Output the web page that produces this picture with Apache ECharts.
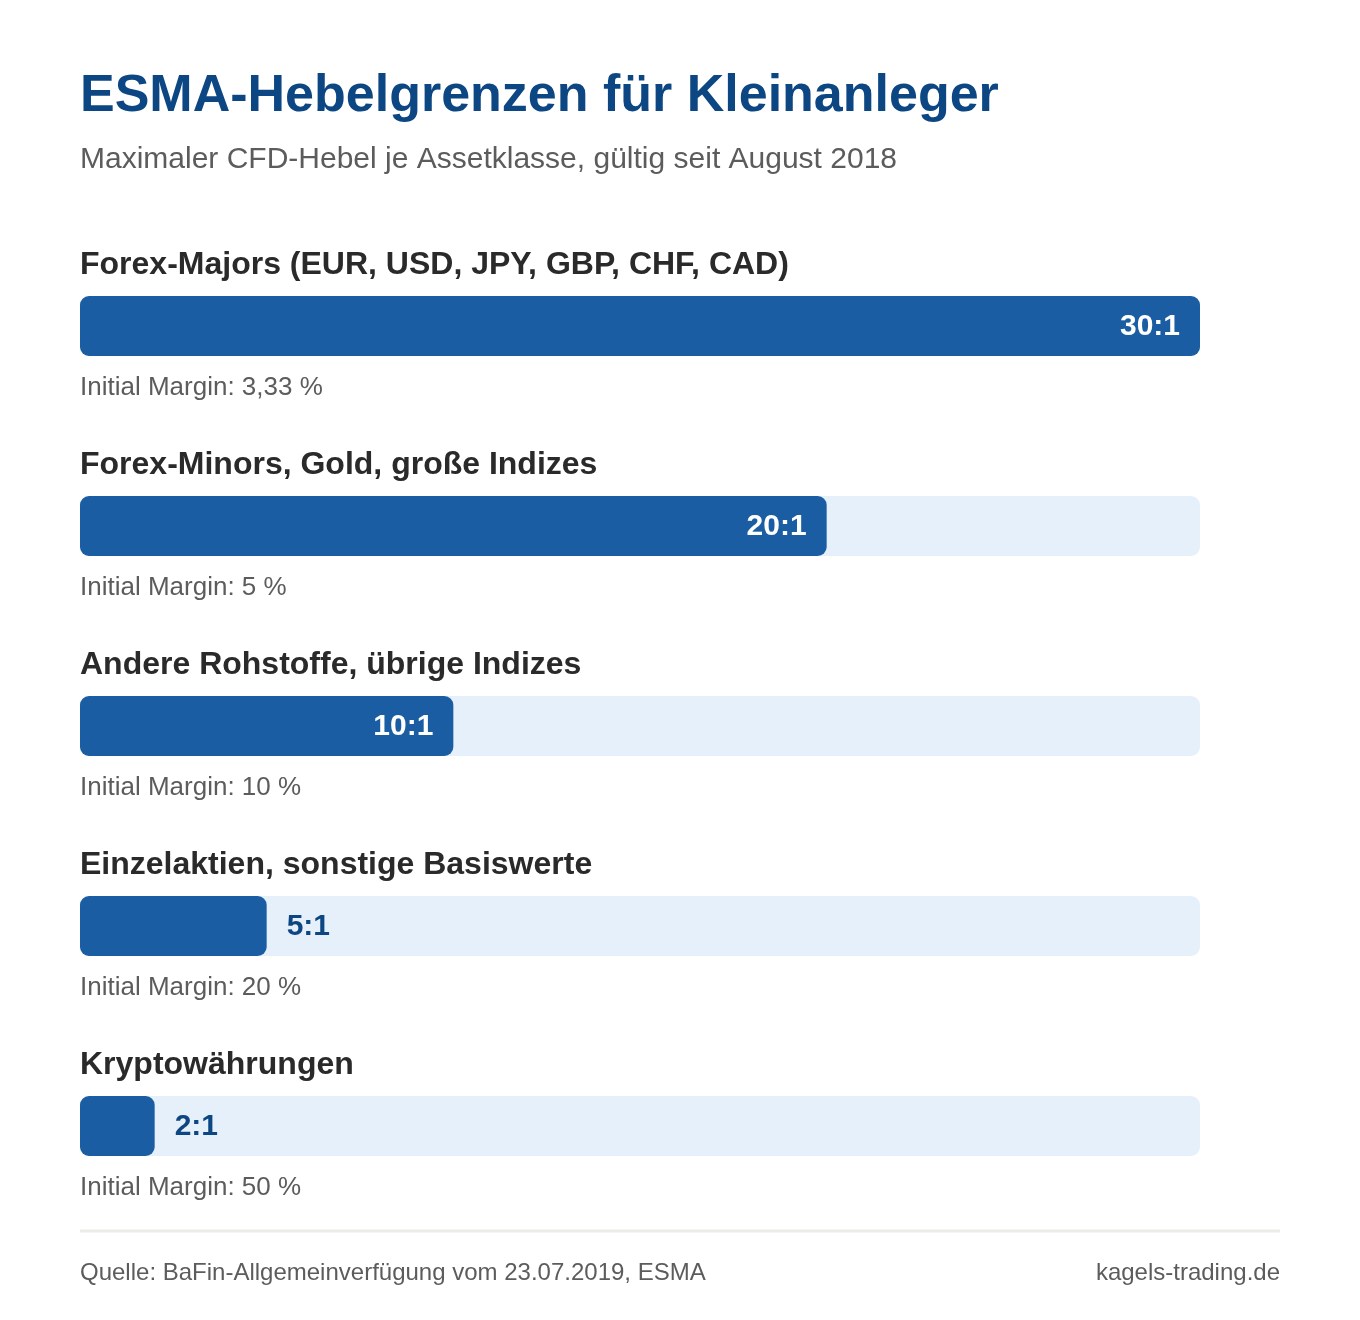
<!DOCTYPE html>
<html>
<head>
<meta charset="utf-8">
<title>ESMA-Hebelgrenzen</title>
<script src="https://cdn.jsdelivr.net/npm/echarts@6/dist/echarts.min.js"></script>
<style>
  html, body { margin: 0; padding: 0; background: #fff; }
  #chart { width: 1360px; height: 1320px; }
</style>
</head>
<body>
<div id="chart"></div>
<script>
// Daten
var categories = [
    'Forex-Majors (EUR, USD, JPY, GBP, CHF, CAD)',
    'Forex-Minors, Gold, große Indizes',
    'Andere Rohstoffe, übrige Indizes',
    'Einzelaktien, sonstige Basiswerte',
    'Kryptowährungen'
];
var leverage = [30, 20, 10, 5, 2];
var margins = ['3,33 %', '5 %', '10 %', '20 %', '50 %'];

var FONT = '"Liberation Sans", Arial, Helvetica, sans-serif';
var BLUE = '#1a5da3';
var DARK = '#0d4783';

var titles = [{
    text: 'ESMA-Hebelgrenzen für Kleinanleger',
    left: 80, top: 71, padding: 0,
    textStyle: { fontFamily: FONT, fontSize: 52, fontWeight: 'bold', color: DARK }
}, {
    text: 'Maximaler CFD-Hebel je Assetklasse, gültig seit August 2018',
    left: 80, top: 145, padding: 0,
    textStyle: { fontFamily: FONT, fontSize: 30, fontWeight: 'normal', color: '#5c5c5c' }
}, {
    text: 'Quelle: BaFin-Allgemeinverfügung vom 23.07.2019, ESMA',
    left: 80, top: 1261, padding: 0,
    textStyle: { fontFamily: FONT, fontSize: 24, fontWeight: 'normal', color: '#5c5c5c' }
}, {
    text: 'kagels-trading.de',
    right: 80, top: 1261, padding: 0,
    textStyle: { fontFamily: FONT, fontSize: 24, fontWeight: 'normal', color: '#5c5c5c' }
}];

// Kategorie-Überschriften und Margin-Zeilen
for (var i = 0; i < categories.length; i++) {
    titles.push({
        text: categories[i],
        left: 80, top: 249 + i * 200, padding: 0,
        textStyle: { fontFamily: FONT, fontSize: 32, fontWeight: 'bold', color: '#2a2a2a' }
    });
    titles.push({
        text: 'Initial Margin: ' + margins[i],
        left: 80, top: 375 + i * 200, padding: 0,
        textStyle: { fontFamily: FONT, fontSize: 26, fontWeight: 'normal', color: '#5c5c5c' }
    });
}

var barData = [];
for (var i = 0; i < leverage.length; i++) {
    var inside = leverage[i] >= 10;
    barData.push({
        value: leverage[i],
        label: {
            position: inside ? 'insideRight' : 'right',
            distance: 20,
            color: inside ? '#ffffff' : DARK
        }
    });
}

var option = {
    backgroundColor: '#ffffff',
    animation: false,
    title: titles,
    grid: {
        left: 80,
        width: 1120,
        top: 226,
        height: 1000
    },
    xAxis: {
        type: 'value',
        min: 0,
        max: 30,
        show: false
    },
    yAxis: {
        type: 'category',
        inverse: true,
        data: categories,
        show: false
    },
    series: [{
        type: 'bar',
        barWidth: 60,
        data: barData,
        itemStyle: {
            color: BLUE,
            borderRadius: 9
        },
        showBackground: true,
        backgroundStyle: {
            color: '#e6f0fa',
            borderRadius: 9
        },
        label: {
            show: true,
            fontFamily: FONT,
            fontSize: 30,
            fontWeight: 'bold',
            offset: [0, 1],
            formatter: function (p) { return p.value + ':1'; }
        }
    }],
    graphic: [{
        type: 'line',
        shape: { x1: 80, y1: 1231, x2: 1280, y2: 1231 },
        style: { stroke: '#ecece8', lineWidth: 3 }
    }]
};

var myChart = echarts.init(document.getElementById('chart'));
myChart.setOption(option);
</script>
</body>
</html>
